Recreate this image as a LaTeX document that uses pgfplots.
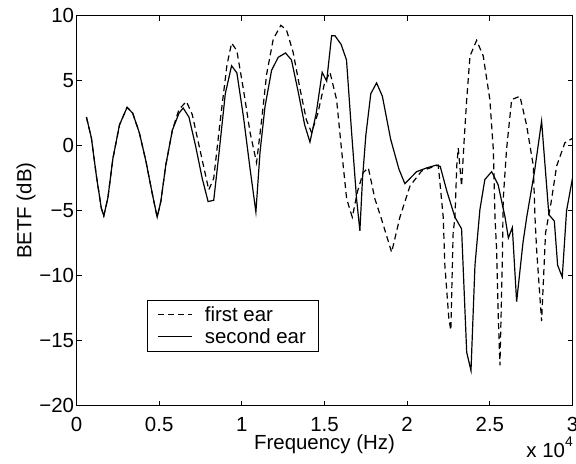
\documentclass[border=0pt]{standalone}
\usepackage{pgfplots}
\pgfplotsset{compat=1.18}
\usepackage{fontspec}
\setmainfont{Liberation Sans}
\newcommand{\ff}{\fontsize{20.5}{23}\selectfont}
\begin{document}
\begin{tikzpicture}[x=1bp,y=1bp]
\useasboundingbox (0,0) rectangle (576,464);
\begin{axis}[
  at={(76.5bp,58.3bp)}, anchor=south west,
  scale only axis, width=496bp, height=390bp,
  xmin=0, xmax=30000, ymin=-20, ymax=10,
  xtick={0,5000,10000,15000,20000,25000,30000},
  xticklabels={0,0.5,1,1.5,2,2.5,3},
  ytick={-20,-15,-10,-5,0,5,10},
  yticklabels={−20,−15,−10,−5,0,5,10},
  scaled x ticks=false,
  tick align=inside, major tick length=5bp,
  tick style={black, line width=0.8bp},
  axis line style={line width=1bp},
  every tick label/.style={font=\ff},
  xticklabel style={inner sep=0pt, yshift=-11.5bp},
  yticklabel style={xshift=1bp},
  xlabel={Frequency (Hz)}, ylabel={BETF (dB)},
  label style={font=\ff},
  xlabel style={at={(rel axis cs:0.5,0)}, anchor=north, inner sep=0pt, yshift=-29bp},
  ylabel style={yshift=-3bp},
  clip=true,
  legend cell align=left,
  legend style={at={(rel axis cs:0.1427,0.271)}, anchor=north west,
    font=\ff, draw=black, line width=0.8bp, inner xsep=10bp, inner ysep=4bp,
    row sep=2bp, column sep=10bp,
    nodes={inner xsep=2bp}},
  legend image code/.code={\draw[#1] (0bp,0bp) -- (34bp,0bp);},
]
\addplot[black, line width=1.2bp, dash pattern=on 6bp off 4bp] coordinates {
(600,2.2)(900,0.6)(1200,-2.3)(1500,-4.8)(1650,-5.4)(1900,-4.0)(2200,-1.0)(2600,1.6)
(3060,2.95)(3400,2.5)(3800,1.0)(4200,-1.2)(4600,-3.8)(4880,-5.5)(5100,-4.3)(5400,-1.5)
(5800,1.2)(6200,2.8)(6650,3.4)(7000,2.4)(7500,-0.5)(8000,-3.4)(8300,-2.5)(8700,2.0)
(9100,6.2)(9380,7.9)(9700,7.3)(10100,4.3)(10500,1.0)(10890,-1.3)(11200,2.0)(11500,5.5)
(11900,8.2)(12360,9.26)(12700,8.9)(13100,7.2)(13500,4.5)(13900,2.0)(14220,1.0)(14600,2.5)
(15000,4.8)(15330,5.65)(15730,3.55)(16030,-0.3)(16340,-4.1)(16680,-5.5)(17000,-3.5)
(17340,-2.07)(17650,-1.7)(18050,-4.1)(18450,-5.66)(19060,-8.2)(19560,-5.5)(20170,-3.1)
(20870,-1.95)(21680,-1.57)(21880,-1.5)(22180,-5.5)(22280,-9.2)(22520,-13.3)(22640,-14.2)
(22780,-6.7)(22890,-5.5)(23000,-1.5)(23090,-0.2)(23290,-3.1)(23450,0.5)(23600,3.55)
(23800,6.9)(24200,8.1)(24600,6.9)(25000,3.55)(25210,-0.3)(25310,-5.5)(25410,-8.0)
(25510,-13.1)(25610,-16.9)(25750,-9.2)(25810,-4.1)(26010,-0.3)(26320,3.55)(26820,3.8)
(27220,1.6)(27630,-1.57)(27730,-5.5)(27830,-8.0)(28130,-13.5)(28370,-6.7)(28700,-4.4)
(29040,-1.57)(29540,0.23)(30050,0.6)
};
\addlegendentry{first ear}
\addplot[black, line width=1.2bp] coordinates {
(600,2.2)(900,0.6)(1200,-2.3)(1500,-4.8)(1650,-5.4)(1900,-4.0)(2200,-1.0)(2600,1.6)
(3060,2.95)(3400,2.5)(3800,1.0)(4200,-1.2)(4600,-3.8)(4880,-5.5)(5100,-4.3)(5400,-1.5)
(5800,1.2)(6200,2.5)(6450,2.9)(6800,2.2)(7200,0.0)(7600,-2.5)(7960,-4.3)(8300,-4.2)
(8600,-0.8)(9000,4.0)(9380,6.15)(9700,5.6)(10100,2.2)(10500,-1.8)(10850,-5.1)(11100,-0.5)
(11400,3.0)(11800,5.8)(12200,6.8)(12640,7.13)(13000,6.6)(13400,4.2)(13800,1.6)(14120,0.28)
(14500,2.5)(14860,5.65)(15130,4.96)(15430,8.46)(15630,8.46)(16000,7.8)(16330,6.6)
(16640,1.0)(16940,-4.1)(17140,-6.55)(17300,-2.5)(17500,0.8)(17800,4.0)(18150,4.83)
(18500,3.8)(19000,0.5)(19500,-1.8)(19860,-2.92)(20570,-2.0)(21200,-1.7)(21780,-1.49)
(22000,-1.6)(22400,-3.5)(22890,-5.5)(23290,-6.4)(23600,-15.9)(23860,-17.3)(24100,-9.2)
(24400,-4.9)(24700,-2.6)(25110,-2.0)(25500,-3.0)(25920,-5.5)(26120,-7.1)(26360,-6.3)
(26620,-12.0)(27000,-7.5)(27230,-5.5)(27700,-2.0)(28130,1.89)(28570,-5.3)(28900,-5.8)
(29100,-9.2)(29380,-10.1)(29640,-5.0)(30000,-2.5)
};
\addlegendentry{second ear}
\end{axis}
\node[anchor=base east, font=\ff, inner sep=0pt] at (573bp,6bp) {x 10\raisebox{0.55em}{\fontsize{14}{15}\selectfont 4}};
\end{tikzpicture}
\end{document}
